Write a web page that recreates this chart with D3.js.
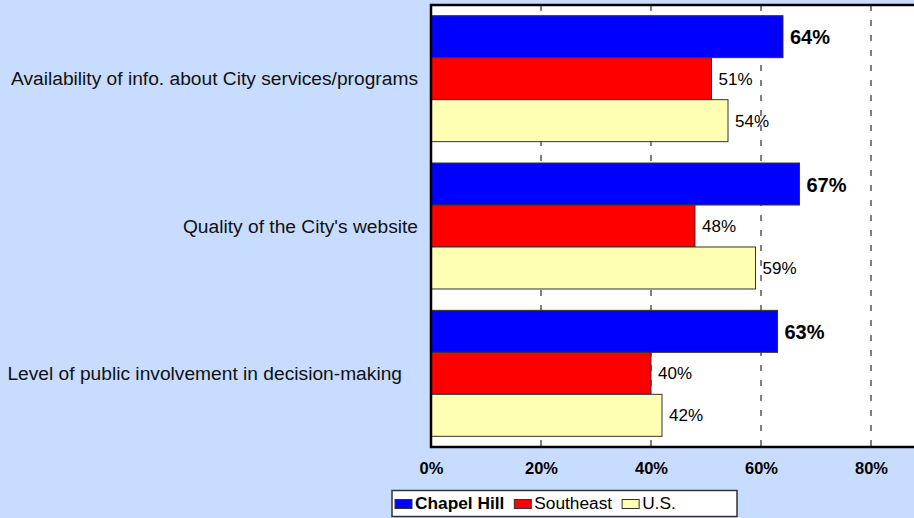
<!DOCTYPE html>
<html>
<head>
<meta charset="utf-8">
<script src="https://cdn.jsdelivr.net/npm/d3@7"></script>
<style>
  html, body { margin: 0; padding: 0; background: #C8DCFF; }
  svg { display: block; font-family: "Liberation Sans", Arial, sans-serif; }
</style>
</head>
<body>
<div id="chart"></div>
<script>
// chart values
var categories = ["Availability of info. about City services/programs",
    "Quality of the City's website",
    "Level of public involvement in decision-making   "]
var seriesNames = ["Chapel Hill", "Southeast", "U.S."]
var chapelHill = [64, 67, 63]
var southeast = [51, 48, 40]
var us = [54, 59, 42]
var tickValues = [0, 20, 40, 60, 80]
var colors = ["#0000FF", "#FF0000", "#FFFFB3"]

var width = 914, height = 518
var plot = { left: 431, top: 5, right: 981, bottom: 447 }

var svg = d3.select("#chart").append("svg")
    .attr("width", width)
    .attr("height", height)

var rows = categories.map(function (c, i) {
    return { cat: c, vals: [chapelHill[i], southeast[i], us[i]] }
})

var x = d3.scaleLinear().domain([0, 100]).range([plot.left, plot.right])
var y0 = d3.scaleBand().domain(categories)
    .range([plot.top, plot.bottom])
    .paddingInner(0.145).paddingOuter(0.0725)
var y1 = d3.scaleBand().domain(seriesNames).range([0, y0.bandwidth()])

// plot area
svg.append("rect")
    .attr("x", plot.left).attr("y", plot.top)
    .attr("width", plot.right - plot.left + 10)
    .attr("height", plot.bottom - plot.top)
    .attr("fill", "#fff")

// dashed gridlines
svg.append("g").selectAll("line")
    .data(tickValues.filter(function (d) { return d > 0 }))
    .enter().append("line")
    .attr("x1", function (d) { return x(d) }).attr("x2", function (d) { return x(d) })
    .attr("y1", plot.top).attr("y2", plot.bottom)
    .attr("stroke", "#000").attr("stroke-width", 1)
    .attr("stroke-dasharray", "6,9")

// bars
var groups = svg.append("g").selectAll("g")
    .data(rows).enter().append("g")
    .attr("transform", function (d) { return "translate(0," + y0(d.cat) + ")" })

groups.selectAll("rect")
    .data(function (d) { return d.vals.map(function (v, i) { return { v: v, s: seriesNames[i], i: i } }) })
    .enter().append("rect")
    .attr("x", x(0))
    .attr("y", function (d) { return y1(d.s) })
    .attr("width", function (d) { return x(d.v) - x(0) })
    .attr("height", y1.bandwidth())
    .attr("fill", function (d) { return colors[d.i] })
    .attr("stroke", "#333").attr("stroke-width", 1)

groups.selectAll("text")
    .data(function (d) { return d.vals.map(function (v, i) { return { v: v, s: seriesNames[i], i: i } }) })
    .enter().append("text")
    .attr("x", function (d) { return x(d.v) + 7 })
    .attr("y", function (d) { return y1(d.s) + y1.bandwidth() / 2 })
    .attr("dy", function (d) { return d.i == 0 ? "0.38em" : "0.36em" })
    .style("font-size", function (d) { return d.i == 0 ? "20px" : "17px" })
    .style("font-weight", function (d) { return d.i == 0 ? "bold" : "normal" })
    .text(function (d) { return d.v + "%" })

// plot frame
svg.append("path")
    .attr("d", "M" + (plot.right + 10) + "," + plot.top + "H" + plot.left + "V" + plot.bottom + "H" + (plot.right + 10))
    .attr("fill", "none").attr("stroke", "#000").attr("stroke-width", 2.5)

// category labels
svg.append("g").selectAll("text")
    .data(categories).enter().append("text")
    .attr("x", plot.left - 13)
    .attr("y", function (d) { return y0(d) + y0.bandwidth() / 2 })
    .attr("dy", "0.35em")
    .attr("text-anchor", "end")
    .style("font-size", "19.2px")
    .style("white-space", "pre")
    .attr("fill", "#111")
    .text(function (d) { return d })

// x axis
var xAxis = svg.append("g")
    .attr("transform", "translate(0," + plot.bottom + ")")
    .call(d3.axisBottom(x).tickValues(tickValues).tickSize(0).tickFormat(function (d) { return d + "%" }))
xAxis.select(".domain").remove()
xAxis.selectAll("text")
    .attr("y", 21)
    .attr("dy", "0.35em")
    .attr("fill", "#000")
    .style("font-size", "16.5px")
    .style("font-weight", "bold")
    .style("font-family", "'Liberation Sans', Arial, sans-serif")

// legend
var legend = svg.append("g")
legend.append("rect")
    .attr("x", 392).attr("y", 490.5)
    .attr("width", 345).attr("height", 26)
    .attr("fill", "#fff").attr("stroke", "#333").attr("stroke-width", 1.5)
var lx = 395
seriesNames.forEach(function (s, i) {
    legend.append("rect")
        .attr("x", lx).attr("y", 499.5)
        .attr("width", 17).attr("height", 9)
        .attr("fill", colors[i]).attr("stroke", "#333").attr("stroke-width", 1)
    var t = legend.append("text")
        .attr("x", lx + 20).attr("y", 509)
        .style("font-size", "17.3px")
        .style("font-weight", i == 0 ? "bold" : "normal")
        .text(s)
    lx = lx + 20 + t.node().getComputedTextLength() + 10
})
</script>
</body>
</html>
